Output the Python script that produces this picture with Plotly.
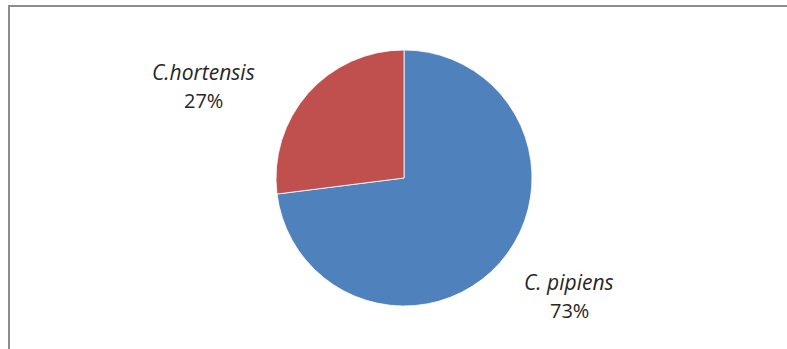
import plotly.graph_objects as go

# Species share of the sample
species = ["C. pipiens", "C.hortensis"]
shares = [73, 27]
colors = ["#4F81BD", "#C0504D"]

W, H = 787, 349
cx, cy, r = 404, 178, 128  # pie centre / radius in px


def px_x(x):
    return x / W


def px_y(y):
    return 1 - y / H


fig = go.Figure(
    go.Pie(
        labels=species,
        values=shares,
        sort=False,
        direction="clockwise",
        rotation=0,
        textinfo="none",
        hoverinfo="label+percent",
        marker=dict(colors=colors, line=dict(color="#FFFFFF", width=0.8)),
        domain=dict(x=[px_x(cx - r), px_x(cx + r)], y=[px_y(cy + r), px_y(cy - r)]),
        showlegend=False,
    )
)

# Outside labels: name (italic) above its percentage
label_pos = {"C.hortensis": (203, 72, 100), "C. pipiens": (569, 282, 310)}
name_font = dict(family="Open Sans, Lato, sans-serif", size=21, color="#262626")
pct_font = dict(family="Open Sans, Lato, sans-serif", size=20, color="#262626")
annotations = []
for name, val in zip(species, shares):
    x, y1, y2 = label_pos[name]
    annotations.append(dict(x=px_x(x), y=px_y(y1), xref="paper", yref="paper",
                            text=f"<i>{name}</i>", showarrow=False, font=name_font,
                            xanchor="center", yanchor="middle"))
    annotations.append(dict(x=px_x(x), y=px_y(y2), xref="paper", yref="paper",
                            text=f"{val}%", showarrow=False, font=pct_font,
                            xanchor="center", yanchor="middle"))

fig.update_layout(
    width=W,
    height=H,
    margin=dict(l=0, r=0, t=0, b=0),
    paper_bgcolor="#FFFFFF",
    plot_bgcolor="#FFFFFF",
    annotations=annotations,
    shapes=[dict(type="rect", xref="paper", yref="paper",
                 x0=px_x(9), x1=1.05, y0=-0.05, y1=px_y(6),
                 line=dict(color="#8C8C8C", width=2), fillcolor="rgba(0,0,0,0)")],
)

fig.write_html("out.html")
